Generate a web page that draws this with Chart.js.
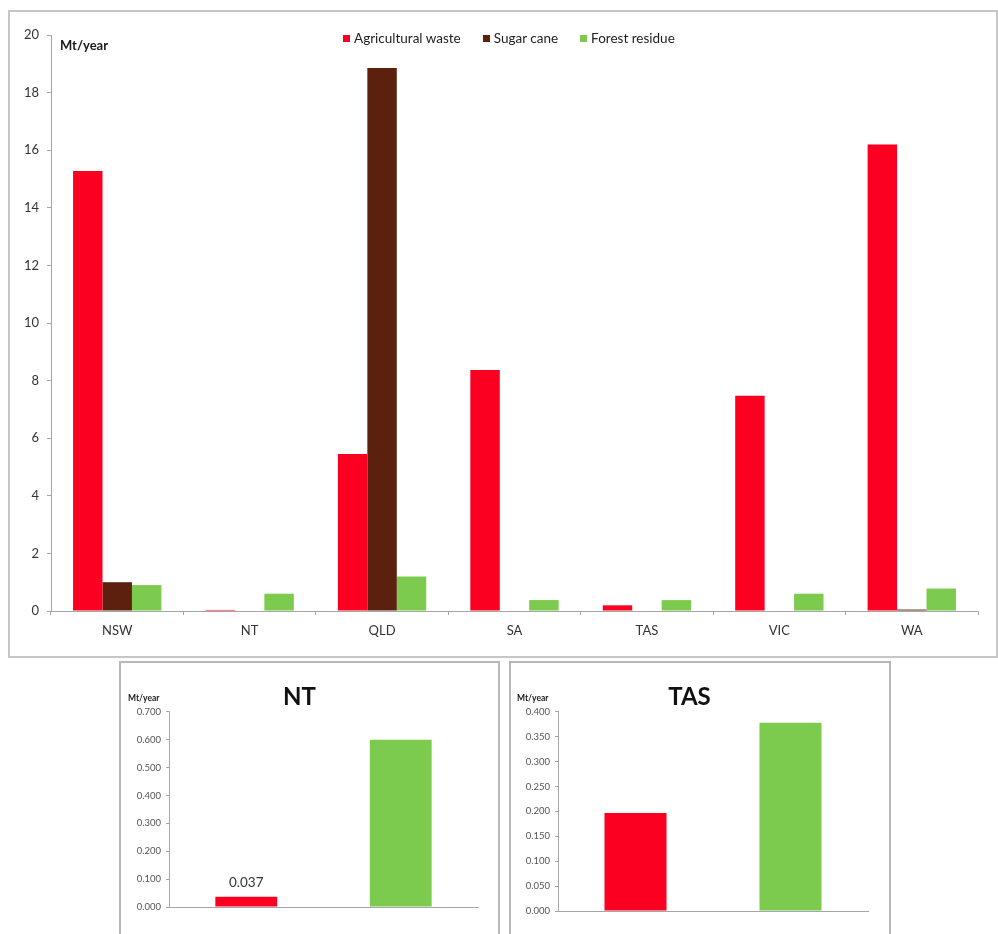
<!DOCTYPE html>
<html>
<head>
<meta charset="utf-8">
<script src="https://cdn.jsdelivr.net/npm/chart.js@4.4.1/dist/chart.umd.min.js"></script>
<style>
  html, body { margin: 0; padding: 0; width: 998px; height: 934px; overflow: hidden; background: #fff; }
  body { font-family: Lato, "Open Sans", sans-serif; position: relative; }
  .box { position: absolute; border: 2px solid #c6c6c6; box-sizing: border-box; background: #fff; }
  .box > div { position: absolute; left: 0; top: 0; right: 0; bottom: 0; }
  #mainBox { left: 8px; top: 10px; width: 990px; height: 648px; }
  #ntBox { left: 119px; top: 661px; width: 381px; height: 290px; border-color: #b8b8b8; }
  #tasBox { left: 509px; top: 661px; width: 382px; height: 290px; border-color: #b8b8b8; }
  #legend { position: absolute; left: 343px; top: 30px; display: flex; font-size: 13.5px; color: #222; }
  #legend span.item { display: flex; align-items: center; margin-right: 22px; }
  #legend span.sw { width: 7px; height: 7px; margin-right: 4px; display: inline-block; }
</style>
</head>
<body>
<div class="box" id="mainBox"><div><canvas id="mainChart"></canvas></div></div>
<div id="legend"></div>
<div class="box" id="ntBox"><div><canvas id="ntChart"></canvas></div></div>
<div class="box" id="tasBox"><div><canvas id="tasChart"></canvas></div></div>

<script>
// ---- data ----
const states = ['NSW', 'NT', 'QLD', 'SA', 'TAS', 'VIC', 'WA'];
const agriculturalWaste = [15.28, 0.037, 5.45, 8.37, 0.197, 7.47, 16.2];
const sugarCane = [1.0, 0, 18.85, 0, 0, 0, 0.05];
const forestResidue = [0.9, 0.6, 1.2, 0.38, 0.378, 0.6, 0.78];
const yTicksMain = [0, 20, 2];

const insetCategories = ['Agricultural waste', 'Forest residue'];
const ntValues = [0.037, 0.6];
const tasValues = [0.197, 0.378];

const RED = '#fb0021';
const BROWN = '#5b200e';
const GREEN = '#7ccb4e';

/* -----------------------------
   text drawn on top of charts
------------------------------ */
const extraText = {
  id: 'extraText',
  afterDraw(chart, args, opts) {
    const ctx = chart.ctx;
    const a = chart.chartArea;
    ctx.save();
    if (opts.unit) {
      ctx.font = opts.unitFont;
      ctx.fillStyle = '#1a1a1a';
      ctx.textAlign = 'left';
      ctx.textBaseline = 'middle';
      ctx.fillText(opts.unit, a.left + opts.unitDx, a.top + opts.unitDy);
    }
    if (opts.valueIndex != null) {
      const bar = chart.getDatasetMeta(0).data[opts.valueIndex];
      const v = chart.data.datasets[0].data[opts.valueIndex];
      ctx.font = '13.5px Lato, sans-serif';
      ctx.fillStyle = '#333';
      ctx.textAlign = 'center';
      ctx.textBaseline = 'middle';
      ctx.fillText(v.toFixed(3), bar.x, bar.y - 14);
    }
    ctx.restore();
  }
};

/* -----------------------------
   main chart
------------------------------ */
const mainDatasets = [
  { label: 'Agricultural waste', data: agriculturalWaste, backgroundColor: RED },
  { label: 'Sugar cane', data: sugarCane, backgroundColor: BROWN },
  { label: 'Forest residue', data: forestResidue, backgroundColor: GREEN }
];

new Chart(document.getElementById('mainChart'), {
  type: 'bar',
  data: { labels: states, datasets: mainDatasets },
  plugins: [extraText],
  options: {
    responsive: true,
    maintainAspectRatio: false,
    animation: false,
    categoryPercentage: 0.667,
    barPercentage: 1.0,
    layout: { padding: { left: 0, right: 18, top: 23, bottom: 1 } },
    plugins: {
      legend: { display: false },
      tooltip: { enabled: false },
      extraText: { unit: 'Mt/year', unitFont: 'bold 13px Lato, sans-serif', unitDx: 9, unitDy: 11 }
    },
    scales: {
      x: {
        grid: { drawOnChartArea: false, tickLength: 4, color: '#a6a6a6' },
        border: { color: '#a6a6a6' },
        ticks: { color: '#333', font: { size: 13, family: 'Lato' }, padding: 8 },
        afterFit(s) { s.height = 44; }
      },
      y: {
        min: yTicksMain[0],
        max: yTicksMain[1],
        grid: { drawOnChartArea: false, tickLength: 4, color: '#a6a6a6' },
        border: { color: '#a6a6a6' },
        ticks: { stepSize: yTicksMain[2], color: '#333', font: { size: 13, family: 'Lato' }, padding: 8 },
        afterFit(s) { s.width = 41; }
      }
    }
  }
});

// html legend from the datasets
const legendEl = document.getElementById('legend');
mainDatasets.forEach(ds => {
  const item = document.createElement('span');
  item.className = 'item';
  item.innerHTML = '<span class="sw" style="background:' + ds.backgroundColor + '"></span>' + ds.label;
  legendEl.appendChild(item);
});

/* -----------------------------
   inset charts
------------------------------ */
function insetChart(id, title, values, max, step, padRight, padBottom, yWidth, valueIndex) {
  new Chart(document.getElementById(id), {
    type: 'bar',
    data: {
      labels: insetCategories,
      datasets: [{ data: values, backgroundColor: [RED, GREEN] }]
    },
    plugins: [extraText],
    options: {
      responsive: true,
      maintainAspectRatio: false,
      animation: false,
      categoryPercentage: 0.4,
      barPercentage: 1.0,
      layout: { padding: { left: 0, right: padRight, top: 0, bottom: padBottom } },
      plugins: {
        legend: { display: false },
        tooltip: { enabled: false },
        title: {
          display: true,
          text: title,
          color: '#111',
          font: { size: 24, weight: 'bold', family: 'Lato' },
          padding: { top: 20, bottom: 0 }
        },
        extraText: { unit: 'Mt/year', unitFont: 'bold 8.5px Lato, sans-serif', unitDx: -41, unitDy: -14, valueIndex: valueIndex }
      },
      scales: {
        x: {
          grid: { display: false },
          border: { color: '#a6a6a6' },
          ticks: { display: false },
          afterFit(s) { s.height = 0; }
        },
        y: {
          min: 0,
          max: max,
          grid: { drawOnChartArea: false, tickLength: 3, color: '#a6a6a6' },
          border: { color: '#a6a6a6' },
          ticks: {
            stepSize: step,
            color: '#555',
            font: { size: 9.5, family: 'Lato' },
            padding: 5,
            callback: v => v.toFixed(3)
          },
          afterFit(s) { s.width = yWidth; }
        }
      }
    }
  });
}

insetChart('ntChart', 'NT', ntValues, 0.7, 0.1, 20, 42, 48, 0);
insetChart('tasChart', 'TAS', tasValues, 0.4, 0.05, 21, 38, 47, null);
</script>
</body>
</html>
